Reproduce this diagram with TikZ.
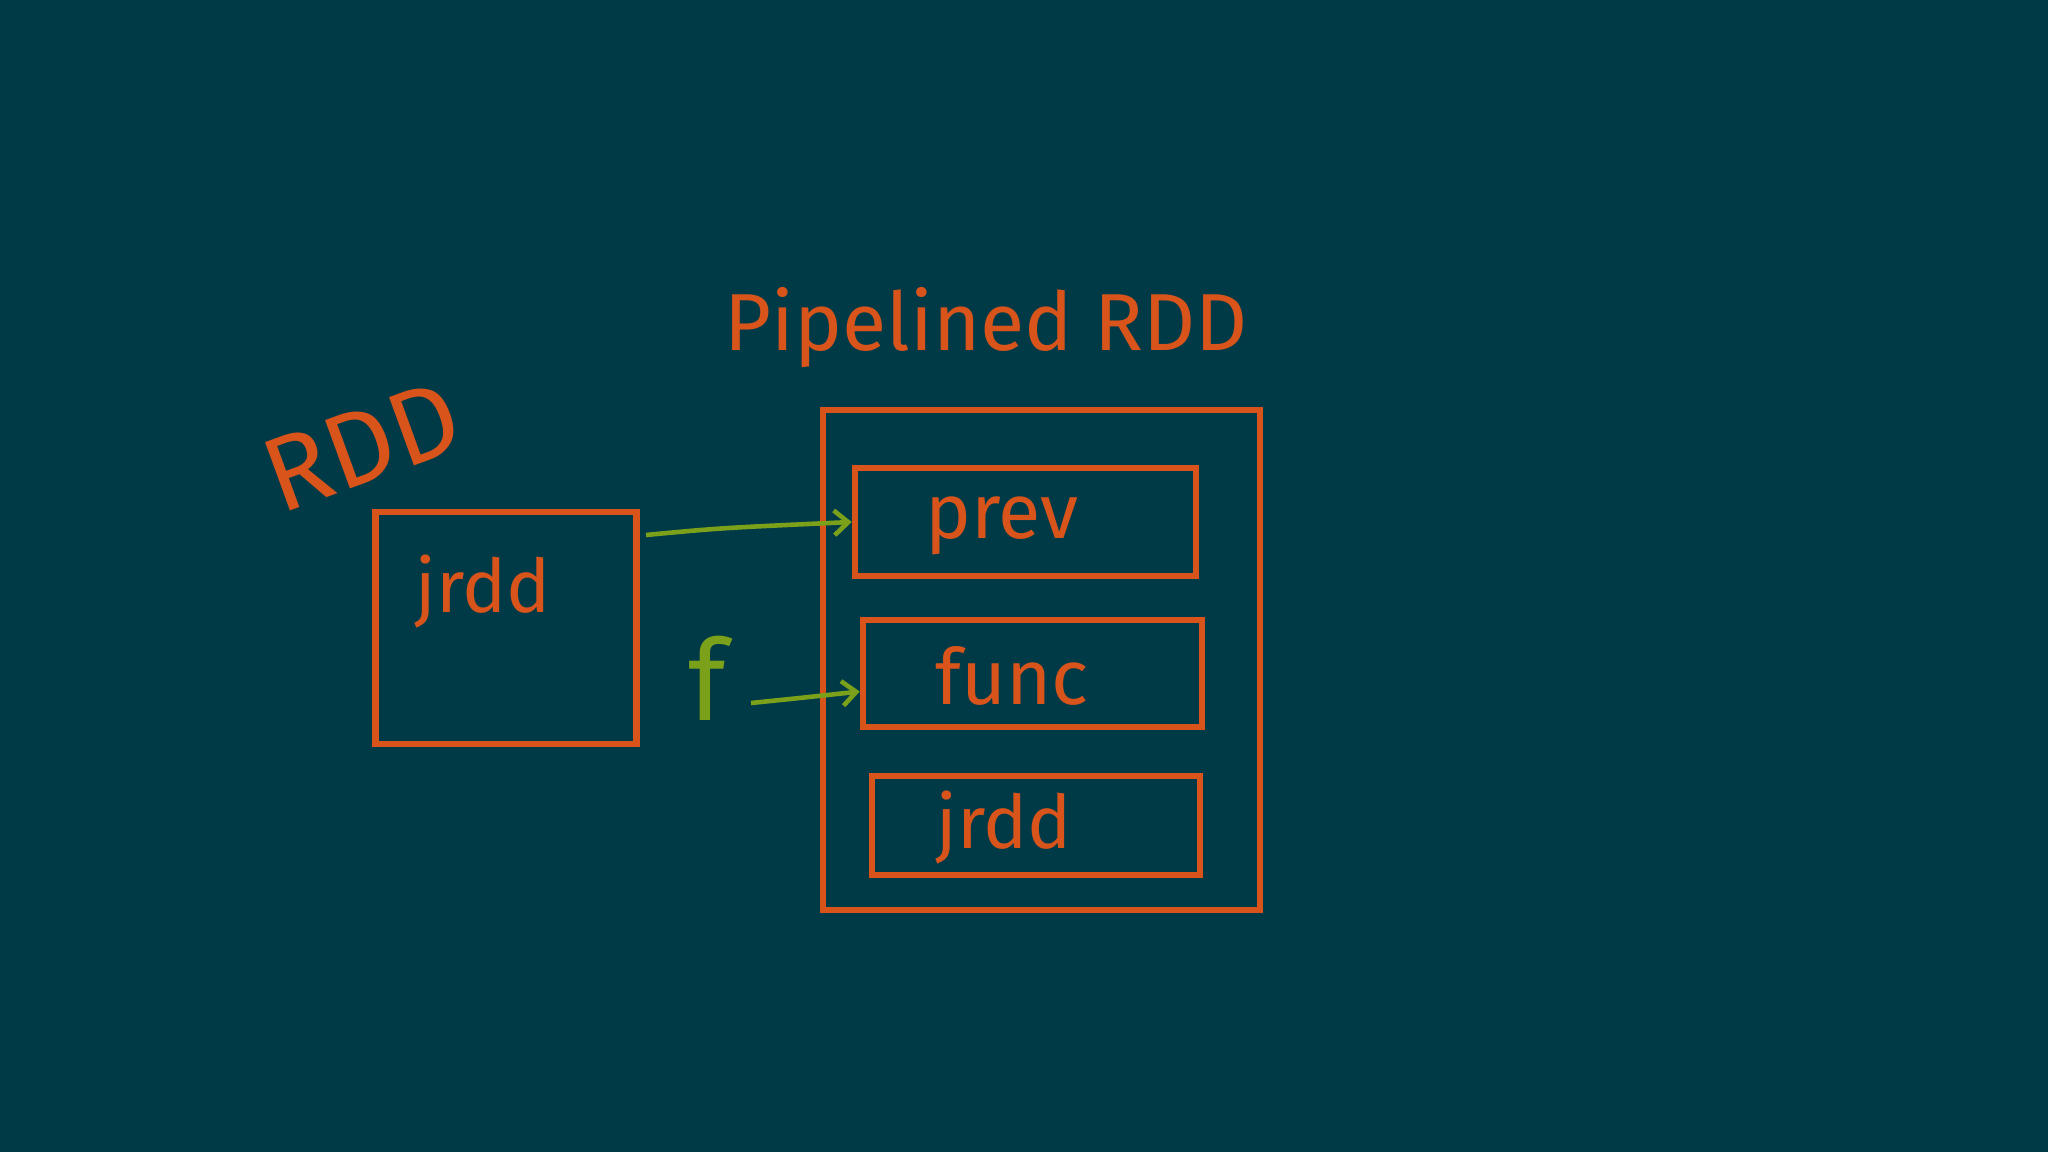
\documentclass[tikz,border=0pt]{standalone}
\usepackage{fontspec}
\setmainfont{Fira Sans}
\usetikzlibrary{arrows.meta}
\definecolor{bgteal}{HTML}{013A47}
\definecolor{marker}{HTML}{D9541A}
\definecolor{lime}{HTML}{7BA11A}
\tikzset{
  box/.style={draw=marker, line width=1.8pt, inner sep=0pt},
  hand/.style={text=marker, inner sep=0pt},
  link/.style={draw=lime, line width=1.3pt, -{Straight Barb[length=4pt,width=7pt]}}
}
\begin{document}
\begin{tikzpicture}[x=0.01cm,y=-0.01cm]
\fill[bgteal] (0,0) rectangle (2048,1152);
\useasboundingbox (0,0) rectangle (2048,1152);
% left RDD
\node[box, minimum width=2.61cm, minimum height=2.32cm] (rdd) at (506,628) {};
\node[hand, rotate=20, font=\fontsize{30}{30}\selectfont] (rddlabel) at (362,446) {RDD};
\node[hand, font=\fontsize{21}{21}\selectfont] (jrdd1) at (483,592) {jrdd};
% pipelined RDD
\node[hand, font=\fontsize{23}{23}\selectfont] (plabel) at (986,328) {Pipelined RDD};
\node[box, minimum width=4.37cm, minimum height=5.00cm] (outer) at (1041.5,660) {};
\node[box, minimum width=3.41cm, minimum height=1.08cm] (prev) at (1025.5,522) {};
\node[hand, font=\fontsize{22}{22}\selectfont] (prevt) at (1002,526) {prev};
\node[box, minimum width=3.39cm, minimum height=1.07cm] (func) at (1032.5,673.5) {};
\node[hand, font=\fontsize{22}{22}\selectfont] (funct) at (1012,676) {func};
\node[box, minimum width=3.28cm, minimum height=0.99cm] (jbox) at (1036,825.5) {};
\node[hand, font=\fontsize{21}{21}\selectfont] (jrdd2) at (1004,828) {jrdd};
% f and arrows
\node[text=lime, inner sep=0pt, font=\fontsize{32}{32}\selectfont] (f) at (707,678) {f};
\coordinate (a1) at (646,535);
\draw[link] (a1) .. controls (720,528) .. (prev.west);
\coordinate (a2) at (751,703);
\draw[link] (a2) .. controls (800,698) .. ([yshift=-0.18cm]func.west);
\end{tikzpicture}
\end{document}
